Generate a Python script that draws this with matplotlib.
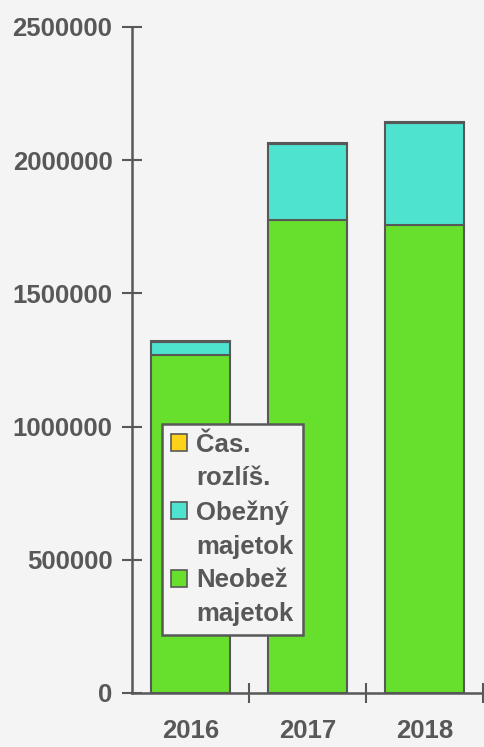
import numpy as np
import matplotlib.pyplot as plt
from matplotlib.patches import Patch

plt.rcParams['font.family'] = ['Liberation Sans', 'DejaVu Sans']

years = ['2016', '2017', '2018']
neobez = [1270000, 1775000, 1755000]
obezny = [48000, 285000, 385000]
cas_rozlis = [4000, 4000, 4000]

labels = [('Čas.', 'rozlíš.'), ('Obežný', 'majetok'), ('Neobež', 'majetok')]
c_green = '#66e02c'
c_cyan = '#4ee3cf'
c_yellow = '#ffd21a'
grey = '#585858'
bg = '#f4f4f5'

fig = plt.figure(figsize=(4.85, 7.47), dpi=100, facecolor=bg)
ax = fig.add_axes([0.272, 0.0723, 0.724, 0.8916], facecolor=bg)

x = np.arange(len(years))
w = 0.67
ax.bar(x, neobez, w, color=c_green, edgecolor=grey, linewidth=1.5)
ax.bar(x, obezny, w, bottom=neobez, color=c_cyan, edgecolor=grey, linewidth=1.5)
bot2 = np.array(neobez) + np.array(obezny)
ax.bar(x, cas_rozlis, w, bottom=bot2, color=c_yellow, edgecolor=grey, linewidth=1.5)

ax.set_xlim(-0.5, 2.5)
ax.set_ylim(0, 2500000)
ax.set_yticks(np.arange(0, 2500001, 500000))
ax.set_yticklabels([str(v) for v in range(0, 2500001, 500000)])
ax.set_xticks(x)
ax.set_xticklabels(years)
ax.set_xticks([0.5, 1.5, 2.5], minor=True)

for s in ['top', 'right']:
    ax.spines[s].set_visible(False)
for s in ['left', 'bottom']:
    ax.spines[s].set_color(grey)
    ax.spines[s].set_linewidth(1.8)

ax.tick_params(axis='y', direction='inout', length=14, width=1.5, color=grey,
               labelsize=18.5, labelcolor=grey, pad=7)
ax.tick_params(axis='x', which='major', length=0, labelsize=18.5, labelcolor=grey, pad=19)
ax.tick_params(axis='x', which='minor', direction='inout', length=14, width=1.5, color=grey)
for t in ax.get_xticklabels() + ax.get_yticklabels():
    t.set_fontweight('bold')

# legend: swatch on first line, second line with an empty handle
colors = [c_yellow, c_cyan, c_green]
handles = []
texts = []
for c, (l1, l2) in zip(colors, labels):
    handles.append(Patch(facecolor=c, edgecolor=grey, linewidth=1.2))
    texts.append(l1)
    handles.append(Patch(facecolor='none', edgecolor='none'))
    texts.append(l2)
leg = ax.legend(handles, texts, loc='lower left', bbox_to_anchor=(0.085, 0.087),
                borderaxespad=0, fancybox=False, framealpha=1, facecolor=bg,
                edgecolor=grey, handlelength=0.65, handleheight=0.65,
                handletextpad=0.35, labelspacing=0.38, borderpad=0.35,
                prop={'size': 18.5, 'weight': 'bold'})
leg.get_frame().set_linewidth(1.8)
for t in leg.get_texts():
    t.set_color(grey)

fig.savefig('out.png', dpi=100, facecolor=bg)
